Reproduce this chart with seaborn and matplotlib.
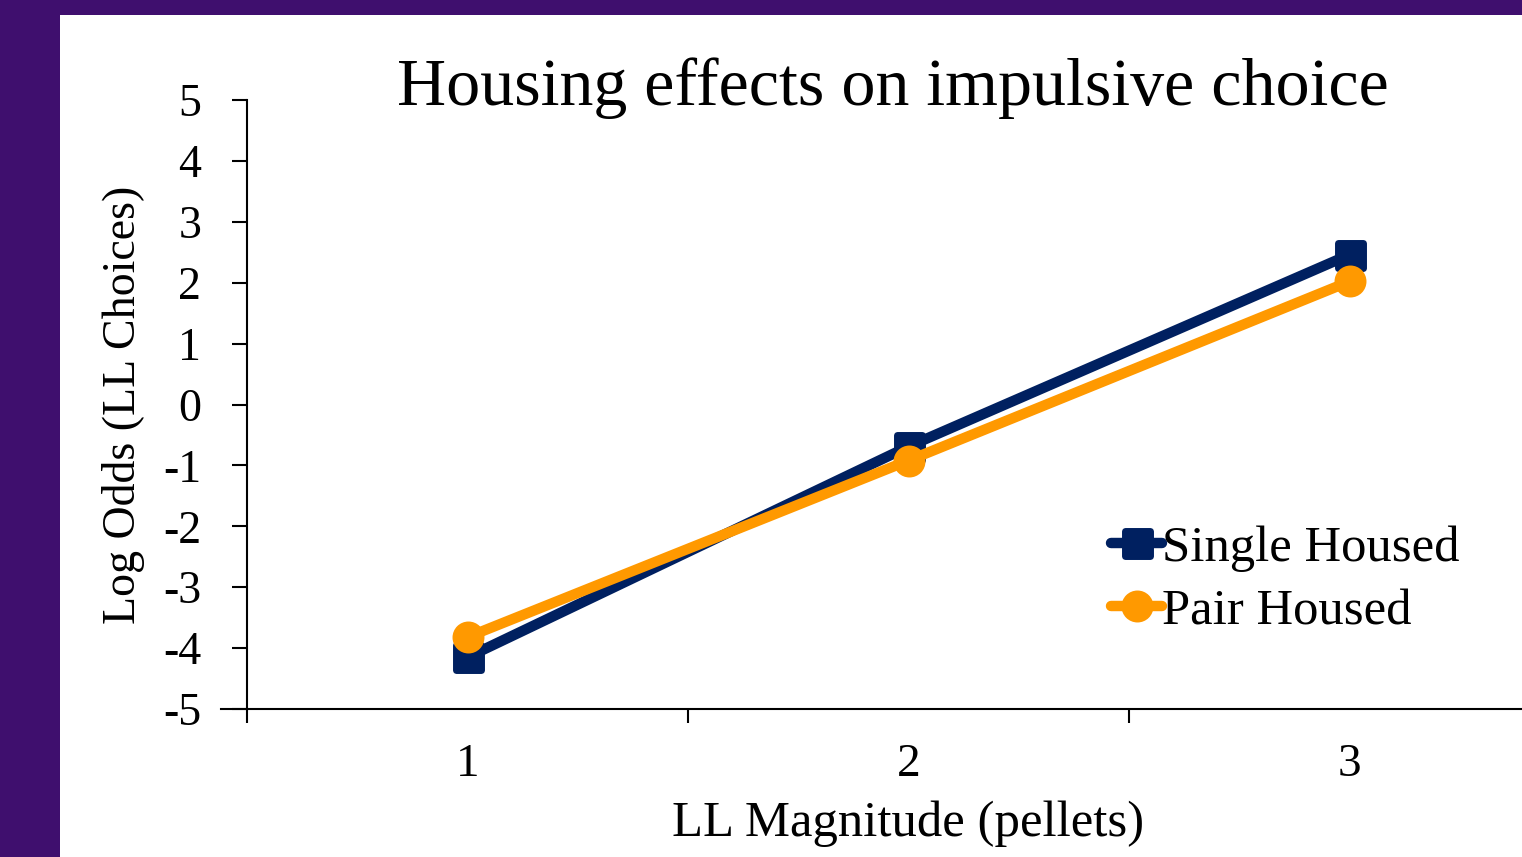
import numpy as np
import pandas as pd
import seaborn as sns
import matplotlib.pyplot as plt
from matplotlib.patches import Rectangle
from matplotlib.markers import MarkerStyle

# data
magnitude = [1, 2, 3]
single_housed = [-4.15, -0.69, 2.46]
pair_housed = [-3.82, -0.92, 2.02]
y_ticks = [-5, -4, -3, -2, -1, 0, 1, 2, 3, 4, 5]

df = pd.DataFrame({
    "LL Magnitude": magnitude * 2,
    "Log Odds": single_housed + pair_housed,
    "Group": ["Single Housed"] * 3 + ["Pair Housed"] * 3,
})

sns.set_style("white")
plt.rcParams['font.family'] = ['Liberation Serif', 'DejaVu Serif']
plt.rcParams['text.color'] = 'black'
plt.rcParams['axes.labelcolor'] = 'black'
plt.rcParams['xtick.color'] = 'black'
plt.rcParams['ytick.color'] = 'black'

navy = "#002060"
orange = "#FF9900"

fig = plt.figure(figsize=(15.22, 8.57), dpi=100, facecolor="#3F0F6E")
# white slide panel
fig.patches.append(Rectangle((60 / 1522, 0), 1, 1 - 15 / 857, transform=fig.transFigure,
                             facecolor="white", edgecolor="none", zorder=-1))

ax = fig.add_axes([247 / 1522, 1 - 709 / 857, 1323 / 1522, 609 / 857])
ax.set_facecolor("none")
ax.set_zorder(2)

sns.lineplot(data=df, x="LL Magnitude", y="Log Odds", hue="Group", style="Group",
             markers={"Single Housed": "s", "Pair Housed": "o"}, dashes=False,
             palette={"Single Housed": navy, "Pair Housed": orange},
             linewidth=7.5, markersize=18, ax=ax)
for line in ax.lines:
    m = line.get_marker()
    if m in ("s", "o"):
        line.set_marker(MarkerStyle(m, joinstyle="round"))
    line.set_markeredgecolor(line.get_color())
    line.set_markeredgewidth(5)
    line.set_solid_joinstyle("round")
    line.set_solid_capstyle("round")

ax.set_xlim(0.5, 3.5)
ax.set_ylim(-5, 5)
ax.set_yticks(y_ticks)
ax.set_yticklabels([str(t) for t in y_ticks], fontsize=33)
ax.set_xticks([0.5, 1.5, 2.5, 3.5])
ax.set_xticklabels([])
ax.set_xticks(magnitude, minor=True)
ax.set_xticklabels([str(m) for m in magnitude], minor=True, fontsize=34)
ax.tick_params(axis="x", which="major", direction="out", length=10, width=1.5, color="black", bottom=True)
ax.tick_params(axis="x", which="minor", length=0, pad=25)
ax.tick_params(axis="y", direction="out", length=11, width=1.5, color="black", left=True, pad=22)

for s in ["top", "right"]:
    ax.spines[s].set_visible(False)
for s in ["left", "bottom"]:
    ax.spines[s].set_color("black")
    ax.spines[s].set_linewidth(1.5)
ax.spines["bottom"].set_bounds(0.44, 3.5)

ax.set_xlabel("LL Magnitude (pellets)", fontsize=36.5, labelpad=10)
ax.set_ylabel("Log Odds (LL Choices)", fontsize=33, labelpad=13)

fig.text(893 / 1522, 1 - 88 / 857, "Housing effects on impulsive choice", fontsize=49,
         ha="center", va="center")

leg = ax.legend(loc="upper left", bbox_to_anchor=(1086 / 1522, 1 - 500 / 857),
                bbox_transform=fig.transFigure, frameon=False, fontsize=36.5,
                handlelength=1.0, handletextpad=0.0, labelspacing=0.33, borderpad=0)
for h in leg.legend_handles:
    h.set_markersize(18)
    h.set_markeredgewidth(5)
    h.set_linewidth(7.5)

fig.savefig("out.png", dpi=100, facecolor=fig.get_facecolor())
